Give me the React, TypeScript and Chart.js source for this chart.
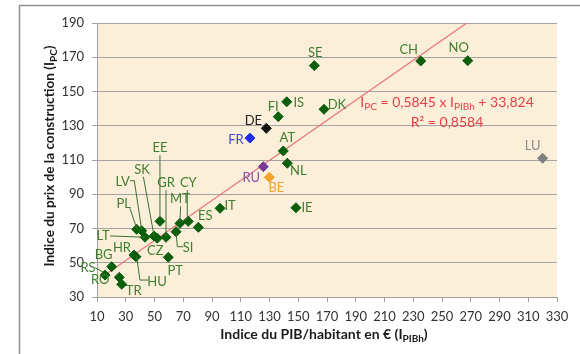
import React, { useEffect, useRef } from "react";
import { Chart, registerables } from "chart.js";

Chart.register(...registerables);

// ---- Data ----
const COUNTRIES = ["SE", "CH", "NO", "DK", "IS", "FI", "DE", "FR", "AT", "NL", "RU", "BE", "IE", "LU", "IT", "ES", "CY", "MT", "EE", "SI", "PL", "LV", "LT", "SK", "CZ", "GR", "PT", "HR", "HU", "BG", "RS", "RO", "TR"];
const GDP_INDEX = [161.2, 235.2, 267.9, 167.9, 142, 136.1, 127.8, 116.4, 139.6, 142.4, 125.7, 129.9, 148.4, 320, 95.6, 80.5, 73.5, 67.7, 53.8, 65, 37.6, 41.1, 43.4, 49.7, 51.9, 58, 59.6, 35.7, 37.1, 20.2, 15.6, 25.5, 27.2];
const PRICE_INDEX = [165.1, 167.8, 168, 139.6, 144, 135.3, 128.5, 122.8, 115.3, 108.1, 106.1, 99.9, 82.1, 111, 81.8, 70.7, 74.2, 73, 74.2, 68.1, 69.5, 68.7, 64.9, 65.6, 64.3, 64.9, 53.2, 54.5, 53.5, 47.7, 42.8, 41.5, 37.4];

const X_MIN = 10, X_MAX = 330, X_STEP = 20;
const Y_MIN = 30, Y_MAX = 190, Y_STEP = 20;

const TREND_SLOPE = 0.5845;
const TREND_INTERCEPT = 33.824;
const TREND_X_START = 14.5;
const TREND_X_END = 272;
const EQUATION_TEXT = "0,5845";
const EQUATION_CONST = "33,824";
const R2_TEXT = "0,8584";
const EQ_ANCHOR = { x: 253.5, y1: 144, y2: 132.4 };

const X_TITLE = "Indice du PIB/habitant en € (I";
const X_TITLE_SUB = "PIBh";
const Y_TITLE = "Indice du prix de la construction (I";
const Y_TITLE_SUB = "PC";

// ---- Styles ----
const FONT = "Lato, 'Open Sans', sans-serif";
const GREEN_MARK = "#0b5e0b";
const GREEN_LABEL = "#3f7d2f";
const SPECIAL: Record<string, { mark: string; label: string }> = {
  FR: { mark: "#1f2fe8", label: "#4646d6" },
  DE: { mark: "#111111", label: "#222222" },
  RU: { mark: "#7a3a9a", label: "#8a4fa8" },
  BE: { mark: "#f4a228", label: "#efa136" },
  LU: { mark: "#7f7f7f", label: "#8c8c8c" },
};

// label placement: offset of label centre from the point (px) and optional leader polyline (relative px)
const LABEL_LAYOUT: Record<string, { dx: number; dy: number; leader?: number[][] }> = {
  SE: { dx: 1, dy: -12.5 },
  CH: { dx: -12, dy: -11 },
  NO: { dx: -9, dy: -13 },
  DK: { dx: 13, dy: -4 },
  IS: { dx: 12, dy: 1 },
  FI: { dx: -5, dy: -10 },
  DE: { dx: -13, dy: -8 },
  FR: { dx: -14, dy: 2 },
  AT: { dx: 4, dy: -13 },
  NL: { dx: 11, dy: 8 },
  RU: { dx: -12, dy: 11 },
  BE: { dx: 7, dy: 11 },
  IE: { dx: 11, dy: 0.5 },
  LU: { dx: -10, dy: -12 },
  IT: { dx: 10, dy: -2 },
  ES: { dx: 7, dy: -11 },
  CY: { dx: 0, dy: -38, leader: [[-1, -31], [-1, -2]] },
  MT: { dx: 0, dy: -25, leader: [[0.7, -17], [0, -2]] },
  EE: { dx: 0, dy: -73, leader: [[0, -66], [0, -2]] },
  GR: { dx: 0, dy: -54, leader: [[0, -47], [0, -1]] },
  SK: { dx: -12, dy: -66, leader: [[-10.7, -59.3], [0, 0]] },
  LV: { dx: -19, dy: -49, leader: [[-11.7, -50], [-7.4, -50], [0, -0.7]] },
  PL: { dx: -13, dy: -26, leader: [[-6.7, -21], [0, -1]] },
  LT: { dx: -42, dy: -1, leader: [[-35, -1.3], [0, 0]] },
  CZ: { dx: -2, dy: 13 },
  SI: { dx: 12, dy: 16, leader: [[0, 1], [1.3, 15], [7.3, 15]] },
  HR: { dx: -12, dy: -7 },
  HU: { dx: 21, dy: 25, leader: [[0.7, 0], [4, 23.3], [12.3, 23.3]] },
  PT: { dx: 7, dy: 14 },
  BG: { dx: -8, dy: -12 },
  RS: { dx: -17, dy: -7, leader: [[-10, -7.3], [-2, -3]] },
  RO: { dx: -19, dy: 3 },
  TR: { dx: 12, dy: 6 },
};

type Seg = { t: string; sub?: boolean };

function drawRich(ctx: CanvasRenderingContext2D, segs: Seg[], cx: number, cy: number, size: number, weight: string, color: string) {
  const main = `${weight} ${size}px ${FONT}`;
  const small = `${weight} ${Math.round(size * 0.72)}px ${FONT}`;
  let w = 0;
  for (const s of segs) {
    ctx.font = s.sub ? small : main;
    w += ctx.measureText(s.t).width;
  }
  let x = cx - w / 2;
  const base = cy + size * 0.35;
  ctx.fillStyle = color;
  ctx.textAlign = "left";
  ctx.textBaseline = "alphabetic";
  for (const s of segs) {
    ctx.font = s.sub ? small : main;
    ctx.fillText(s.t, x, s.sub ? base + size * 0.22 : base);
    x += ctx.measureText(s.t).width;
  }
}

const decorPlugin = {
  id: "decor",
  beforeDraw(chart: any) {
    const { ctx, chartArea } = chart;
    ctx.save();
    ctx.fillStyle = "#ffffff";
    ctx.fillRect(0, 0, chart.width, chart.height);
    // outer frame
    ctx.strokeStyle = "#8f8f8f";
    ctx.lineWidth = 1.5;
    ctx.beginPath();
    ctx.moveTo(19.5, chart.height);
    ctx.lineTo(19.5, 5.5);
    ctx.lineTo(chart.width, 5.5);
    ctx.stroke();
    // plot background
    ctx.fillStyle = "#fbefd9";
    ctx.fillRect(chartArea.left, chartArea.top, chartArea.right - chartArea.left, chartArea.bottom - chartArea.top);
    ctx.restore();
  },
  afterDraw(chart: any) {
    const { ctx, chartArea } = chart;
    const xs = chart.scales.x;
    const ys = chart.scales.y;
    ctx.save();
    // point labels + leaders
    COUNTRIES.forEach((c, i) => {
      const px = xs.getPixelForValue(GDP_INDEX[i]);
      const py = ys.getPixelForValue(PRICE_INDEX[i]);
      const lay = LABEL_LAYOUT[c];
      const col = SPECIAL[c] ? SPECIAL[c].label : GREEN_LABEL;
      if (lay.leader) {
        ctx.strokeStyle = "#3a7030";
        ctx.lineWidth = 1;
        ctx.beginPath();
        lay.leader.forEach((p, k) => {
          if (k === 0) ctx.moveTo(px + p[0], py + p[1]);
          else ctx.lineTo(px + p[0], py + p[1]);
        });
        ctx.stroke();
      }
      ctx.font = `13px ${FONT}`;
      ctx.fillStyle = col;
      ctx.textAlign = "center";
      ctx.textBaseline = "middle";
      ctx.fillText(c, px + lay.dx, py + lay.dy);
    });
    // equation
    const ex = xs.getPixelForValue(EQ_ANCHOR.x);
    drawRich(ctx, [
      { t: "I" }, { t: "PC", sub: true }, { t: ` = ${EQUATION_TEXT} x I` }, { t: "PIBh", sub: true }, { t: ` + ${EQUATION_CONST}` },
    ], ex, ys.getPixelForValue(EQ_ANCHOR.y1), 14, "normal", "#e5404a");
    drawRich(ctx, [{ t: `R² = ${R2_TEXT}` }], ex, ys.getPixelForValue(EQ_ANCHOR.y2), 14, "normal", "#e5404a");
    // axis titles
    const midX = (chartArea.left + chartArea.right) / 2;
    drawRich(ctx, [{ t: X_TITLE }, { t: X_TITLE_SUB, sub: true }, { t: ")" }], midX - 3, 334, 14, "bold", "#1a1a1a");
    ctx.translate(49, 156);
    ctx.rotate(-Math.PI / 2);
    drawRich(ctx, [{ t: Y_TITLE }, { t: Y_TITLE_SUB, sub: true }, { t: ")" }], 0, 0, 13.6, "bold", "#1a1a1a");
    ctx.restore();
  },
};

export default function App() {
  const ref = useRef<HTMLCanvasElement | null>(null);
  useEffect(() => {
    document.body.style.margin = "0";
    const canvas = ref.current!;
    const points = COUNTRIES.map((c, i) => ({ x: GDP_INDEX[i], y: PRICE_INDEX[i] }));
    const colors = COUNTRIES.map((c) => (SPECIAL[c] ? SPECIAL[c].mark : GREEN_MARK));
    const chart = new Chart(canvas, {
      type: "scatter",
      data: {
        datasets: [
          {
            type: "line",
            label: "trend",
            data: [
              { x: TREND_X_START, y: TREND_SLOPE * TREND_X_START + TREND_INTERCEPT },
              { x: TREND_X_END, y: TREND_SLOPE * TREND_X_END + TREND_INTERCEPT },
            ],
            borderColor: "#ea7a7c",
            borderWidth: 1.3,
            pointRadius: 0,
            fill: false,
            order: 2,
          } as any,
          {
            label: "pays",
            data: points,
            pointStyle: "rectRot",
            pointRadius: 5,
            pointBackgroundColor: colors,
            pointBorderColor: colors,
            pointBorderWidth: 1,
            order: 1,
          },
        ],
      },
      options: {
        responsive: false,
        animation: false,
        layout: { padding: { top: 23, right: 23, left: 0, bottom: 0 } },
        plugins: { legend: { display: false }, tooltip: { enabled: false } },
        scales: {
          x: {
            type: "linear",
            min: X_MIN,
            max: X_MAX,
            ticks: { stepSize: X_STEP, color: "#333333", font: { family: FONT, size: 13 }, padding: 7, maxRotation: 0 },
            grid: { drawOnChartArea: false, drawTicks: true, tickLength: 5, color: "#a0a0a0" },
            border: { color: "#a0a0a0" },
            afterFit: (s: any) => { s.height = 57; },
          },
          y: {
            type: "linear",
            min: Y_MIN,
            max: Y_MAX,
            ticks: { stepSize: Y_STEP, color: "#333333", font: { family: FONT, size: 13 }, padding: 8 },
            grid: { color: "#a3a3a3", tickLength: 5 },
            border: { color: "#a0a0a0" },
            afterFit: (s: any) => { s.width = 97; },
          },
        },
      },
      plugins: [decorPlugin],
    });
    return () => chart.destroy();
  }, []);
  return (
    <div style={{ width: 580, height: 354 }}>
      <canvas ref={ref} width={580} height={354} style={{ display: "block" }} />
    </div>
  );
}
